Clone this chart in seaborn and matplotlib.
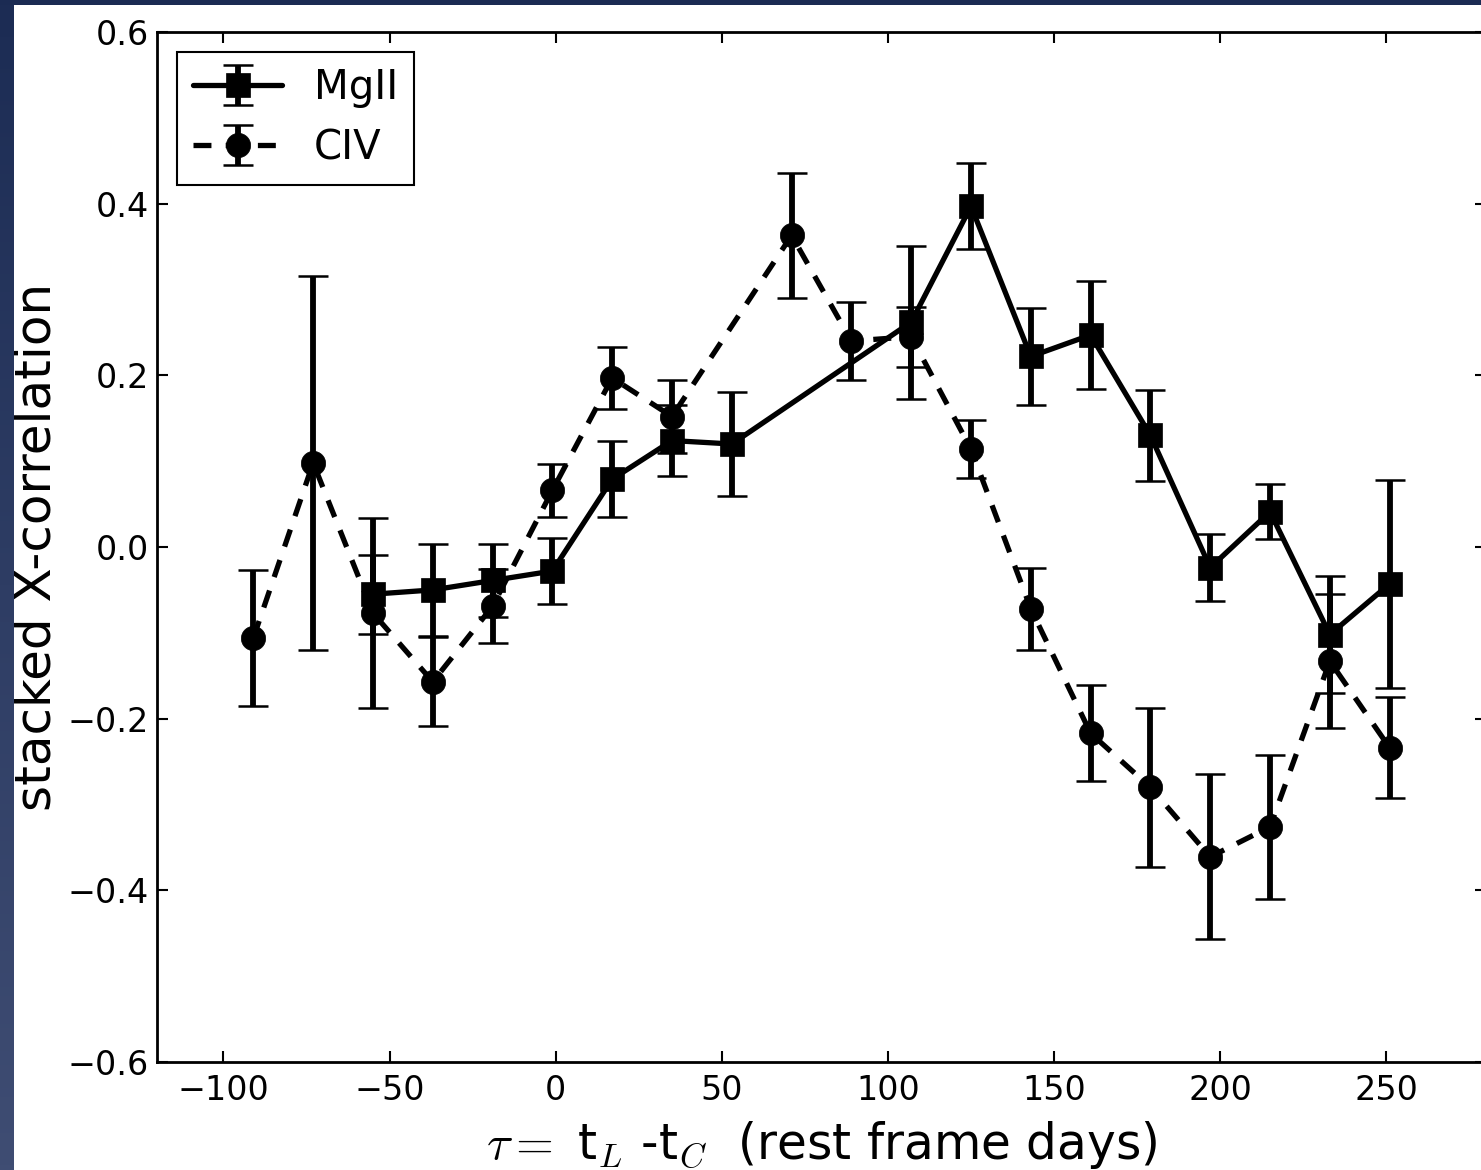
import numpy as np
import pandas as pd
import matplotlib
matplotlib.use("Agg")
import matplotlib.pyplot as plt
from matplotlib.colors import LinearSegmentedColormap
from matplotlib.patches import Rectangle
import seaborn as sns

# Stacked cross-correlation vs. lag (rest-frame days)
lag_mg2 = [-55, -37, -19, -1, 17, 35, 53, 107, 125, 143, 161, 179, 197, 215, 233, 251]
ccf_mg2 = [-0.055, -0.050, -0.039, -0.028, 0.079, 0.124, 0.120, 0.262, 0.397,
           0.222, 0.247, 0.130, -0.024, 0.041, -0.102, -0.043]
err_mg2 = [0.046, 0.054, 0.042, 0.038, 0.044, 0.041, 0.061, 0.089, 0.050,
           0.056, 0.063, 0.053, 0.039, 0.032, 0.068, 0.121]

lag_c4 = [-91, -73, -55, -37, -19, -1, 17, 35, 71, 89, 107, 125, 143, 161, 179,
          197, 215, 233, 251]
ccf_c4 = [-0.106, 0.098, -0.077, -0.157, -0.069, 0.066, 0.197, 0.152, 0.363,
          0.240, 0.245, 0.114, -0.072, -0.217, -0.280, -0.361, -0.326, -0.133,
          -0.234]
err_c4 = [0.079, 0.218, 0.111, 0.052, 0.043, 0.031, 0.036, 0.043, 0.073,
          0.046, 0.035, 0.034, 0.048, 0.056, 0.093, 0.096, 0.084, 0.078, 0.059]

series_names = ["MgII", "CIV"]
x_ticks = [-100, -50, 0, 50, 100, 150, 200, 250]
y_ticks = [-0.6, -0.4, -0.2, 0.0, 0.2, 0.4, 0.6]

sns.set_theme(style="ticks", rc={
    "axes.edgecolor": "black",
    "axes.linewidth": 2.0,
    "text.color": "black",
    "axes.labelcolor": "black",
    "xtick.color": "black",
    "ytick.color": "black",
    "xtick.direction": "in",
    "ytick.direction": "in",
})
plt.rcParams["font.family"] = ["DejaVu Sans"]
plt.rcParams["mathtext.fontset"] = "cm"

INK = "#000000"
W, H = 1481, 1170
fig = plt.figure(figsize=(W / 100, H / 100), dpi=100, facecolor="white")
ax = fig.add_axes([157 / W, (H - 1062) / H, (1486 - 157) / W, (1062 - 32) / H])

bar_kw = dict(fmt="none", ecolor=INK, elinewidth=4.2, capsize=10.5, capthick=1.8)

df_mg2 = pd.DataFrame({"lag": lag_mg2, "ccf": ccf_mg2})
df_c4 = pd.DataFrame({"lag": lag_c4, "ccf": ccf_c4})

# MgII: solid line with squares
eb_mg2 = ax.errorbar(lag_mg2, ccf_mg2, yerr=err_mg2, zorder=2, **bar_kw)
sns.lineplot(data=df_mg2, x="lag", y="ccf", ax=ax, color=INK, linewidth=3.8,
             marker="s", markersize=17.5, markeredgecolor=INK, markeredgewidth=0.5,
             errorbar=None, legend=False, zorder=3)
line_mg2 = ax.lines[-1]

# CIV: dashed line with circles
eb_c4 = ax.errorbar(lag_c4, ccf_c4, yerr=err_c4, zorder=2, **bar_kw)
sns.lineplot(data=df_c4, x="lag", y="ccf", ax=ax, color=INK, linewidth=3.8,
             linestyle=(0, (3.4, 2.7)), marker="o", markersize=17.5,
             markeredgecolor=INK, markeredgewidth=0.5,
             errorbar=None, legend=False, zorder=3)
line_c4 = ax.lines[-1]

ax.set_xlim(-120, 280)
ax.set_ylim(-0.6, 0.6)
ax.set_xticks(x_ticks)
ax.set_yticks(y_ticks)
ax.tick_params(axis="both", which="major", direction="in", length=8, width=1.5,
               labelsize=24, top=True, right=True, labelcolor=INK)
ax.tick_params(axis="x", pad=9)
ax.tick_params(axis="y", pad=6)

ax.set_xlabel(r"$\tau=$ t$_L$ -t$_C$  (rest frame days)", fontsize=35)
ax.set_ylabel("stacked X-correlation", fontsize=36)
ax.xaxis.set_label_coords(0.5, -0.055)
ax.yaxis.set_label_coords(-0.0725, 0.5)

leg = ax.legend([(line_mg2, eb_mg2), (line_c4, eb_c4)], series_names,
                loc="upper left", fontsize=29, handlelength=2.2,
                fancybox=False, framealpha=1, edgecolor=INK)
leg.get_frame().set_linewidth(1.5)

# slide background bands along the left and top edges
strip = fig.add_axes([0, 0, 14 / W, 1], zorder=20)
grad = np.linspace(0, 1, 256).reshape(-1, 1)
cmap = LinearSegmentedColormap.from_list("slide", ["#1c2c54", "#2e3d64", "#3f4d73"])
strip.imshow(grad, aspect="auto", cmap=cmap, extent=[0, 1, 0, 1], origin="upper")
strip.set_axis_off()
fig.add_artist(Rectangle((0, 1 - 5 / H), 1, 5 / H, transform=fig.transFigure,
                         facecolor="#1b2b53", edgecolor="none", zorder=21))

fig.savefig("out.png", dpi=100, facecolor=fig.get_facecolor())
